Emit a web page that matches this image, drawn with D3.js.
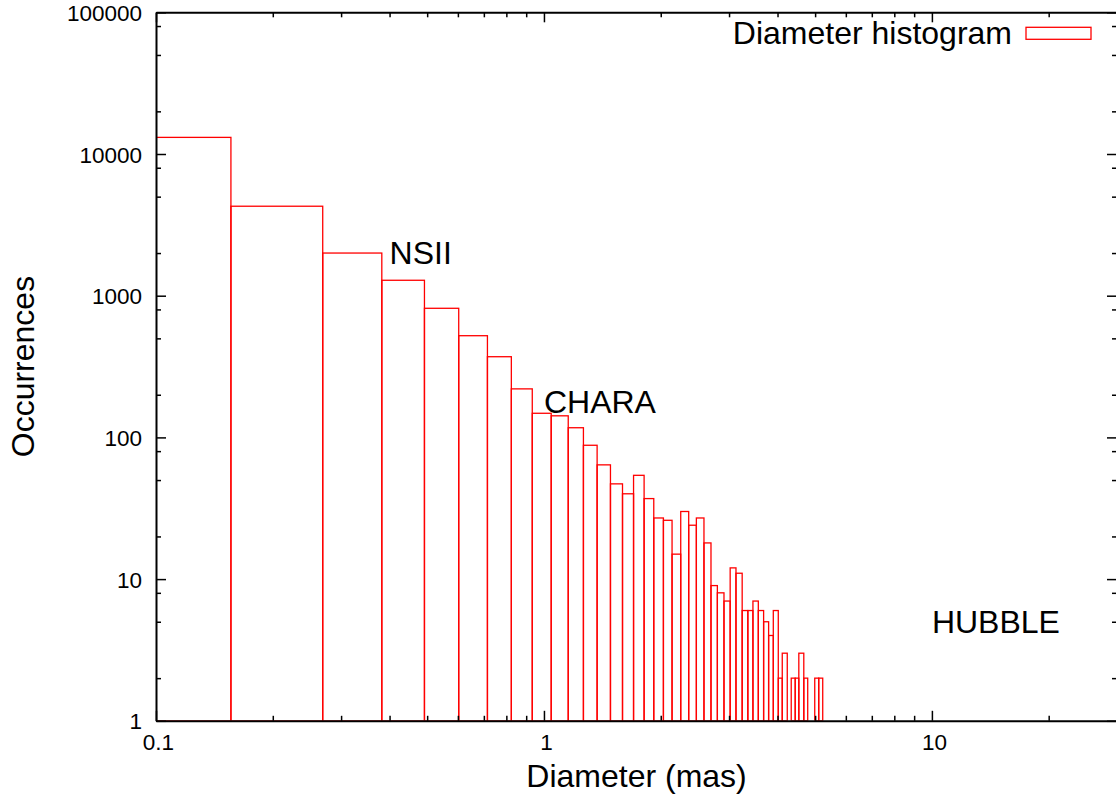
<!DOCTYPE html>
<html><head><meta charset="utf-8">
<script src="https://cdn.jsdelivr.net/npm/d3@7"></script>
<style>body{margin:0;background:#fff} svg{display:block}</style>
</head><body><svg id="c" width="1116" height="796"></svg>
<script>
// Histogram bin edges (mas)
const binEdges = [0.045, 0.156, 0.269, 0.382, 0.492, 0.603, 0.715, 0.824, 0.933, 1.044, 1.155,
  1.264, 1.371, 1.484, 1.594, 1.702, 1.812, 1.919, 2.032, 2.139, 2.252, 2.361, 2.471, 2.585,
  2.695, 2.799, 2.911, 3.020, 3.126, 3.243, 3.354, 3.457, 3.569, 3.683, 3.794, 3.901, 4.018,
  4.114, 4.238, 4.339, 4.443, 4.539, 4.675, 4.785, 4.885, 4.989, 5.108, 5.231];
// Occurrences per bin
const counts = [13100, 4280, 2000, 1285, 815, 522, 371, 220, 148, 142, 117, 88, 64, 47, 40, 54,
  37, 27, 26, 15, 30, 24, 27, 18, 9, 8, 7, 12, 11, 6, 6, 7, 6, 5, 4, 6, 2, 3, 1, 2, 2, 3, 2, 1, 1, 2, 2];

const xMajorTicks = [0.1, 1, 10];
const xMinorTicks = [0.2, 0.3, 0.4, 0.5, 0.6, 0.7, 0.8, 0.9, 2, 3, 4, 5, 6, 7, 8, 9, 20];
const yMajorTicks = [1, 10, 100, 1000, 10000, 100000];
const yMinorTicks = [2, 5, 8, 20, 50, 80, 200, 500, 800, 2000, 5000, 8000, 20000, 50000, 80000];
const annoText = ["NSII", "CHARA", "HUBBLE"];
const annoX = [0.4, 1, 10];
const annoY = [2000, 180, 5];
const legendLabel = "Diameter histogram";
const xTitle = "Diameter (mas)";
const yTitle = "Occurrences";

const FONT = "'Liberation Sans', Arial, Helvetica, sans-serif";
const TICK_FS = 22.5, LABEL_FS = 32;
const L = 156, R = 1117, T = 12.3, B = 720.8;
const svg = d3.select("#c");
const x = d3.scaleLog().domain([0.1, 30]).range([L, R]);
const y = d3.scaleLog().domain([1, 100000]).range([B, T]);

svg.append("defs").append("clipPath").attr("id", "clip")
  .append("rect").attr("x", L).attr("y", T).attr("width", R - L).attr("height", B - T);

const bins = counts.map((c, i) => ({lo: binEdges[i], hi: binEdges[i + 1], c}));
svg.append("g").attr("clip-path", "url(#clip)")
  .selectAll("rect").data(bins.filter(d => d.c > 1)).join("rect")
  .attr("x", d => x(d.lo)).attr("width", d => x(d.hi) - x(d.lo))
  .attr("y", d => y(d.c)).attr("height", d => y(1) - y(d.c))
  .attr("fill", "none").attr("stroke", "#ff0000").attr("stroke-width", 1.3);

function styleAxis(g) {
  g.select(".domain").attr("stroke", "#000").attr("stroke-width", 2);
  g.selectAll(".tick line").attr("stroke", "#000").attr("stroke-width", 1.5);
}
// minor ticks
svg.append("g").attr("transform", `translate(0,${B})`)
  .call(d3.axisBottom(x).tickValues(xMinorTicks).tickSize(-5).tickSizeOuter(0).tickFormat(""))
  .call(g => g.select(".domain").remove()).call(styleAxis);
svg.append("g").attr("transform", `translate(0,${T})`)
  .call(d3.axisTop(x).tickValues(xMinorTicks).tickSize(-5).tickSizeOuter(0).tickFormat(""))
  .call(g => g.select(".domain").remove()).call(styleAxis);
svg.append("g").attr("transform", `translate(${L},0)`)
  .call(d3.axisLeft(y).tickValues(yMinorTicks).tickSize(-5).tickSizeOuter(0).tickFormat(""))
  .call(g => g.select(".domain").remove()).call(styleAxis);
svg.append("g").attr("transform", `translate(${R},0)`)
  .call(d3.axisRight(y).tickValues(yMinorTicks).tickSize(-5).tickSizeOuter(0).tickFormat(""))
  .call(g => g.select(".domain").remove()).call(styleAxis);

// major ticks + border
const gx = svg.append("g").attr("transform", `translate(0,${B})`)
  .call(d3.axisBottom(x).tickValues(xMajorTicks).tickSize(-10).tickSizeOuter(0).tickFormat(d => String(d)))
  .call(styleAxis);
gx.selectAll(".tick text").attr("y", 29.5).attr("dy", null).attr("dx", 2)
  .attr("font-family", FONT).attr("font-size", TICK_FS).attr("fill", "#000");
svg.append("g").attr("transform", `translate(0,${T})`)
  .call(d3.axisTop(x).tickValues(xMajorTicks).tickSize(-10).tickSizeOuter(0).tickFormat(""))
  .call(styleAxis);
const gy = svg.append("g").attr("transform", `translate(${L},0)`)
  .call(d3.axisLeft(y).tickValues(yMajorTicks).tickSize(-10).tickSizeOuter(0).tickFormat(d => String(d)))
  .call(styleAxis);
gy.selectAll(".tick text").attr("x", -14).attr("dy", null).attr("y", 8)
  .attr("font-family", FONT).attr("font-size", TICK_FS).attr("fill", "#000");
svg.append("g").attr("transform", `translate(${R},0)`)
  .call(d3.axisRight(y).tickValues(yMajorTicks).tickSize(-10).tickSizeOuter(0).tickFormat(""))
  .call(styleAxis);

// titles
svg.append("text").attr("x", (L + R) / 2).attr("y", 787).attr("text-anchor", "middle")
  .attr("font-family", FONT).attr("font-size", LABEL_FS).text(xTitle);
svg.append("text").attr("transform", `translate(33.5,${(T + B) / 2}) rotate(-90)`)
  .attr("text-anchor", "middle").attr("font-family", FONT).attr("font-size", LABEL_FS).text(yTitle);

// annotations
svg.append("g").selectAll("text").data(annoText).join("text")
  .attr("x", (d, i) => x(annoX[i])).attr("y", (d, i) => y(annoY[i]) + 11.3)
  .attr("font-family", FONT).attr("font-size", LABEL_FS).text(d => d);

// legend
svg.append("text").attr("x", 1012).attr("y", 44).attr("text-anchor", "end")
  .attr("font-family", FONT).attr("font-size", LABEL_FS).text(legendLabel);
svg.append("rect").attr("x", 1026).attr("y", 27.3).attr("width", 65).attr("height", 12)
  .attr("fill", "none").attr("stroke", "#ff0000").attr("stroke-width", 1.3);
</script></body></html>
